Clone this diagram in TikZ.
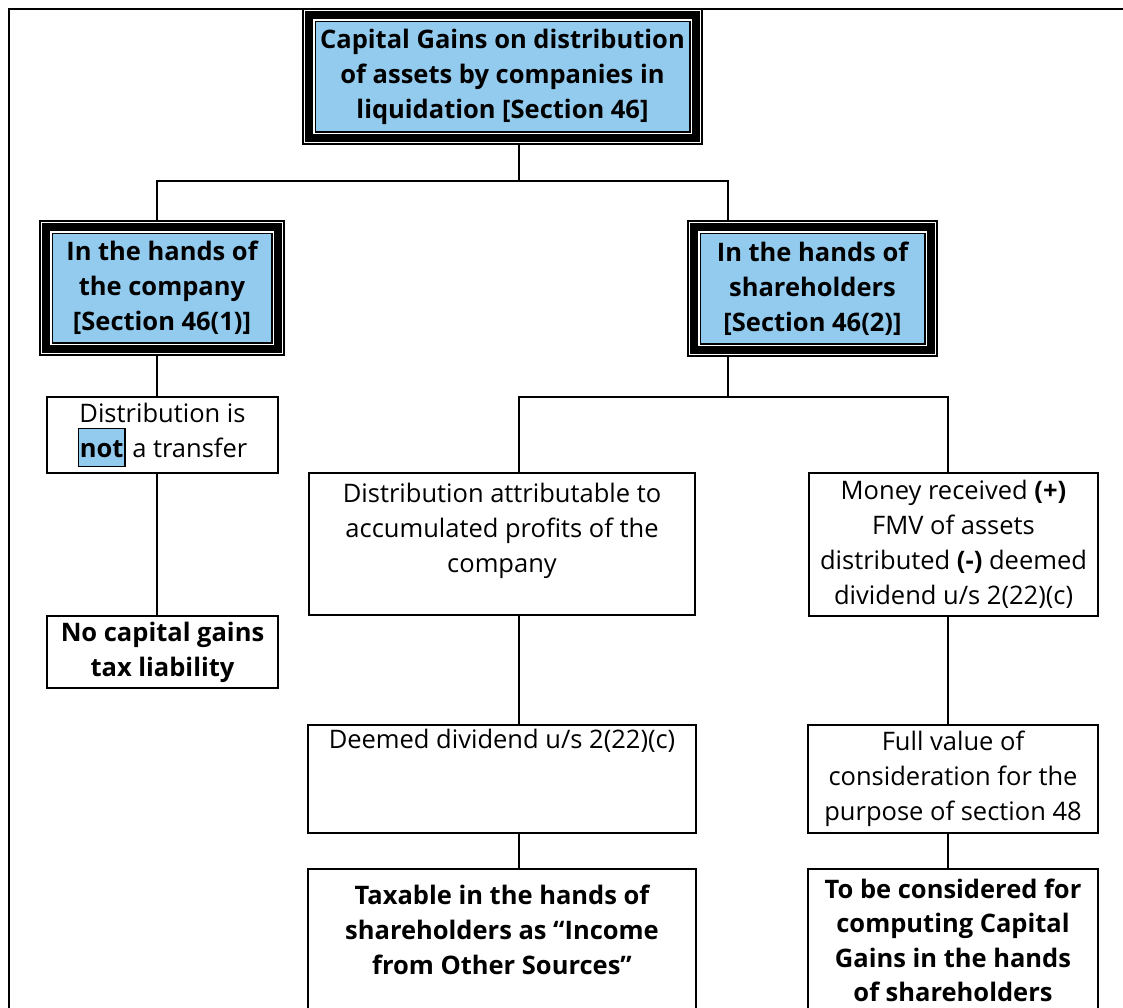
\documentclass[tikz,border=0pt]{standalone}
\usepackage{fontspec}
\setmainfont{Open Sans}
\usepackage{tikz}
\definecolor{headblue}{RGB}{146,203,238}
\setlength{\fboxsep}{1pt}
\setlength{\fboxrule}{1.2pt}
\newcommand{\toptext}[4]{\parbox[c][#1][t]{#2}{\centering\rule{0pt}{#3}#4}}

\begin{document}
\begin{tikzpicture}[x=1pt,y=-1pt]
	\tikzstyle{every node}+=[inner sep=0pt,font=\fontsize{25.5}{35}\selectfont]
	\tikzstyle{headbox}=[rectangle,fill=headblue,draw=black,line width=14.3pt,postaction={draw=white,line width=10.7pt},postaction={draw=black,line width=7.7pt},align=center,font=\fontsize{25.5}{35}\selectfont\bfseries]
	\tikzstyle{plainbox}=[rectangle,draw=black,line width=1.5pt,align=center]
	\tikzstyle{link}=[line width=1.6pt]
	\useasboundingbox (0,0) rectangle (1123,1007);
	\draw [line width=1.7pt] (9,1030) -- (9,9) -- (1140,9);
	\node [headbox,minimum width=386.7pt,minimum height=122.7pt] (gains) at (502.5,76.5) {Capital Gains on distribution\\of assets by companies in\\liquidation [Section 46]};
	\node [headbox,minimum width=231.7pt,minimum height=121.7pt] (company) at (162,288) {In the hands of\\the company\\{[}Section 46(1)]};
	\node [headbox,minimum width=236.7pt,minimum height=122.7pt] (holders) at (812.5,288.5) {In the hands of\\shareholders\\{[}Section 46(2)]};
	\node [plainbox,minimum width=231pt,minimum height=76pt] (notransfer) at (162.5,435) {Distribution is\\\fcolorbox{black}{headblue}{\textbf{not}\rule[-8pt]{0pt}{35pt}} a transfer};
	\node [plainbox,minimum width=231pt,minimum height=72pt,font=\fontsize{25.5}{35}\selectfont\bfseries] (nogains) at (162.5,652) {No capital gains\\tax liability};
	\node [plainbox,minimum width=386pt,minimum height=142pt] (profits) at (502,544) {\toptext{142pt}{380pt}{29pt}{Distribution attributable to\\accumulated profits of the\\company}};
	\node [plainbox,minimum width=289pt,minimum height=143pt] (money) at (953.5,544.5) {Money received \textbf{(+)}\\FMV of assets\\distributed \textbf{(-)} deemed\\dividend u/s 2(22)(c)};
	\node [plainbox,minimum width=388pt,minimum height=108pt] (deemed) at (502,779) {\toptext{108pt}{382pt}{23pt}{Deemed dividend u/s 2(22)(c)}};
	\node [plainbox,minimum width=290pt,minimum height=108pt] (fullvalue) at (953,779) {Full value of\\consideration for the\\purpose of section 48};
	\node [plainbox,minimum width=388pt,minimum height=171pt] (taxable) at (502,954.5) {\toptext{171pt}{382pt}{35pt}{\bfseries Taxable in the hands of\\shareholders as “Income\\from Other Sources”}};
	\node [plainbox,minimum width=290pt,minimum height=171pt] (computing) at (953,954.5) {\toptext{171pt}{284pt}{29pt}{\fontsize{25.5}{34.5}\selectfont\bfseries To be considered for\\computing Capital\\Gains in the hands\\of shareholders}};
	\coordinate (bus) at (519,181);
	\coordinate (busleft) at (157,181);
	\coordinate (busright) at (728,181);
	\coordinate (split) at (519,397);
	\coordinate (splitright) at (948,397);
	\draw [link] (gains.south -| bus) -- (bus);
	\draw [link] (company.north -| busleft) -- (busleft) -- (busright) -- (holders.north -| busright);
	\draw [link] (company.south -| busleft) -- (notransfer.north -| busleft);
	\draw [link] (notransfer.south -| busleft) -- (nogains.north -| busleft);
	\draw [link] (holders.south -| busright) -- (busright |- split);
	\draw [link] (profits.north -| split) -- (split) -- (splitright) -- (money.north -| splitright);
	\draw [link] (profits.south -| split) -- (deemed.north -| split);
	\draw [link] (deemed.south -| split) -- (taxable.north -| split);
	\draw [link] (money.south -| splitright) -- (fullvalue.north -| splitright);
	\draw [link] (fullvalue.south -| splitright) -- (computing.north -| splitright);
\end{tikzpicture}
\end{document}
